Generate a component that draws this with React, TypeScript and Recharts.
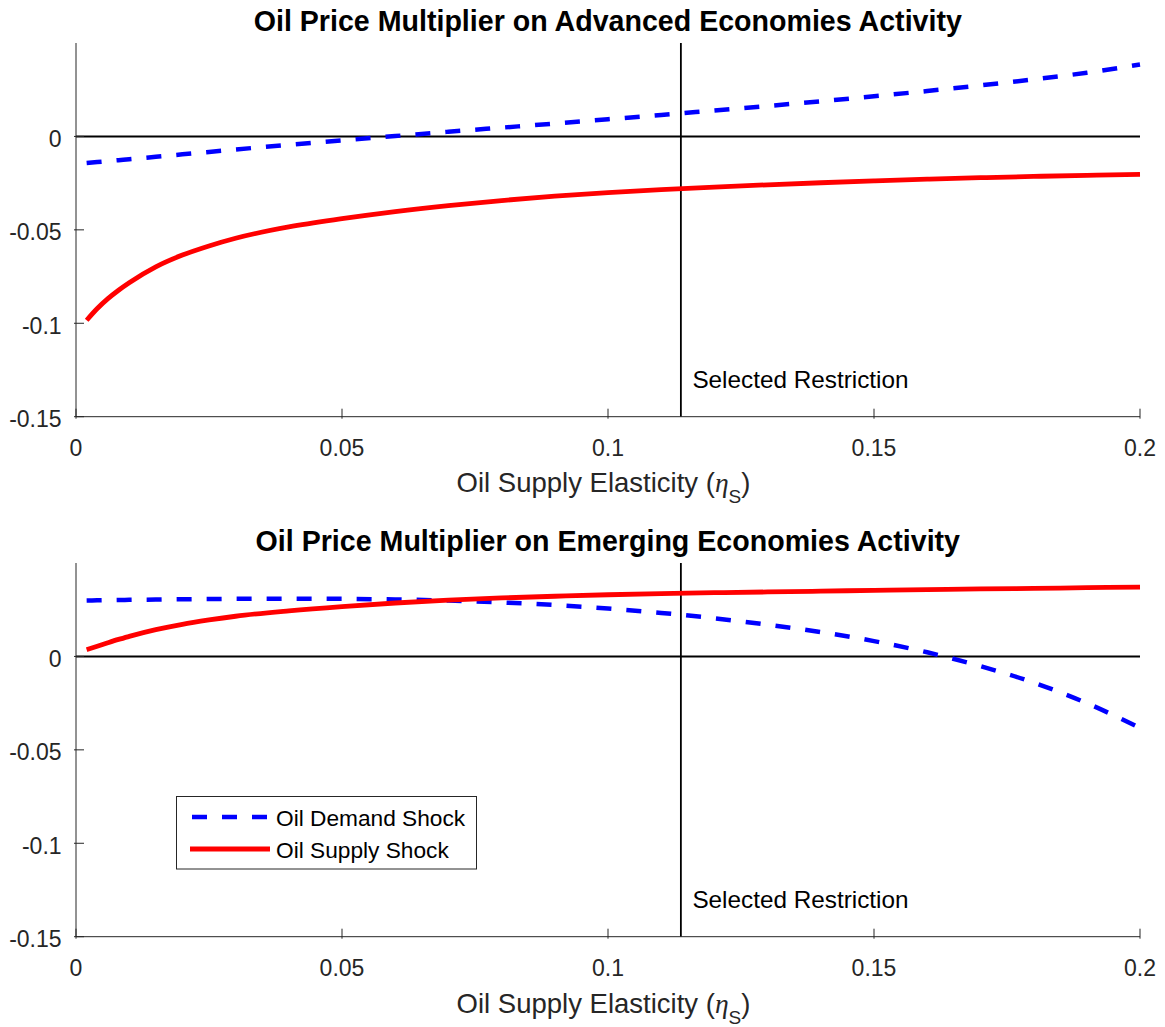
import React from 'react';
import { LineChart, Line, XAxis, YAxis, ReferenceLine } from 'recharts';

const FONT = '"Liberation Sans", Arial, Helvetica, sans-serif';
const AX = '#262626';

// oil supply elasticity grid (x)
const elasticity = [
  0.002, 0.004, 0.006, 0.008, 0.01, 0.015, 0.02, 0.025, 0.03, 0.04, 0.05, 0.06, 0.07,
  0.08, 0.09, 0.1, 0.11, 0.12, 0.13, 0.14, 0.15, 0.16, 0.17, 0.18, 0.19, 0.2,
];

// advanced economies
const advDemand = [
  -0.0142, -0.0137, -0.0132, -0.0127, -0.0122, -0.0109, -0.0096, -0.0083, -0.007, -0.0045,
  -0.0021, 0.0002, 0.0025, 0.0047, 0.0069, 0.0092, 0.0115, 0.0139, 0.0163, 0.0188, 0.0215,
  0.0243, 0.0273, 0.0305, 0.0341, 0.0385,
];
const advSupply = [
  -0.0984, -0.0921, -0.0868, -0.0823, -0.0783, -0.0698, -0.0635, -0.0586, -0.0545, -0.0484,
  -0.044, -0.0402, -0.037, -0.0343, -0.032, -0.0301, -0.0285, -0.0271, -0.0259, -0.0248,
  -0.0238, -0.0229, -0.0221, -0.0214, -0.0208, -0.0203,
];

// emerging economies
const emgDemand = [
  0.0299, 0.03, 0.0301, 0.0302, 0.0303, 0.0304, 0.0306, 0.0307, 0.0308, 0.0309, 0.0308,
  0.0305, 0.0299, 0.0289, 0.0275, 0.0256, 0.0233, 0.0204, 0.017, 0.013, 0.0082, 0.0022,
  -0.0052, -0.014, -0.025, -0.0383,
];
const emgSupply = [
  0.0036, 0.0054, 0.0073, 0.0091, 0.0107, 0.0143, 0.0172, 0.0195, 0.0215, 0.0244, 0.0267,
  0.0286, 0.0301, 0.0313, 0.0322, 0.033, 0.0336, 0.0341, 0.0345, 0.0349, 0.0354, 0.0358,
  0.0361, 0.0364, 0.0368, 0.0371,
];

const xTicks = [0, 0.05, 0.1, 0.15, 0.2];
const yTicks = [-0.15, -0.1, -0.05, 0];
const selectedRestriction = 0.1137;

const W = 1165;
const H = 470;
const PANEL_SHIFT = 520.3;

const BottomTick = ({ x, y, payload }: any) => (
  <g>
    <line x1={x} y1={y} x2={x} y2={y - 10} stroke={AX} />
    <text x={x} y={y + 37.3} textAnchor="middle" fontSize={23} fill={AX} fontFamily={FONT}>
      {String(payload.value)}
    </text>
  </g>
);
const TopTick = ({ x, y }: any) => <line x1={x} y1={y} x2={x} y2={y + 10} stroke={AX} />;
const LeftTick = ({ x, y, payload }: any) => (
  <g>
    <line x1={x} y1={y} x2={x + 10} y2={y} stroke={AX} />
    <text x={x - 12.4} y={y + 10.5} textAnchor="end" fontSize={23} fill={AX} fontFamily={FONT}>
      {String(payload.value)}
    </text>
  </g>
);
const RightTick = ({ x, y }: any) => <line x1={x} y1={y} x2={x - 10} y2={y} stroke={AX} />;

function Panel({ demand, supply, top }: { demand: number[]; supply: number[]; top: number }) {
  const data = elasticity.map((x, i) => ({ x, demand: demand[i], supply: supply[i] }));
  return (
    <div style={{ position: 'absolute', left: 0, top }}>
      <LineChart width={W} height={H} data={data} margin={{ top: 43, right: 25, bottom: 9.3, left: 0 }}>
        <XAxis xAxisId="b" dataKey="x" type="number" domain={[0, 0.2]} ticks={xTicks} interval={0}
          height={44} tickSize={0} tickLine={false} axisLine={{ stroke: AX }} tick={<BottomTick />} />
        <XAxis xAxisId="t" orientation="top" dataKey="x" type="number" domain={[0, 0.2]} ticks={xTicks}
          interval={0} height={0} tickSize={0} tickLine={false} axisLine={{ stroke: AX }} tick={<TopTick />} />
        <YAxis yAxisId="l" type="number" domain={[-0.15, 0.05]} ticks={yTicks} interval={0} width={76}
          tickSize={0} tickLine={false} axisLine={{ stroke: AX }} tick={<LeftTick />} />
        <YAxis yAxisId="r" orientation="right" type="number" domain={[-0.15, 0.05]} ticks={yTicks}
          interval={0} width={0} tickSize={0} tickLine={false} axisLine={{ stroke: AX }} tick={<RightTick />} />
        <ReferenceLine xAxisId="b" yAxisId="l" y={0} stroke="#000" strokeWidth={2} />
        <ReferenceLine xAxisId="b" yAxisId="l" x={selectedRestriction} stroke="#000" strokeWidth={1.8}
          label={(p: any) => (
            <text x={p.viewBox.x + 11.5} y={p.viewBox.y + p.viewBox.height - 28.5} fontSize={24.3}
              fill="#000" fontFamily={FONT}>
              Selected Restriction
            </text>
          )} />
        <Line xAxisId="b" yAxisId="l" dataKey="demand" type="monotone" stroke="#0000ff" strokeWidth={4.5}
          strokeDasharray="15 15" dot={false} activeDot={false} isAnimationActive={false} />
        <Line xAxisId="b" yAxisId="l" dataKey="supply" type="monotone" stroke="#ff0000" strokeWidth={4.8}
          dot={false} activeDot={false} isAnimationActive={false} />
      </LineChart>
    </div>
  );
}

function AxisLabel({ y }: { y: number }) {
  return (
    <text x={603.5} y={y} textAnchor="middle" fontSize={27.5} fill={AX} fontFamily={FONT}>
      Oil Supply Elasticity (
      <tspan fontFamily='"Liberation Serif", serif' fontStyle="italic">η</tspan>
      <tspan dy={11} fontSize={19}>S</tspan>
      <tspan dy={-11}>)</tspan>
    </text>
  );
}

export default function App() {
  return (
    <div style={{ position: 'absolute', left: 0, top: 0, width: W, height: 1027, background: '#fff' }}>
      <Panel demand={advDemand} supply={advSupply} top={0} />
      <Panel demand={emgDemand} supply={emgSupply} top={PANEL_SHIFT} />
      <svg width={W} height={1027} style={{ position: 'absolute', left: 0, top: 0, pointerEvents: 'none' }}>
        <text x={607.8} y={31} textAnchor="middle" fontSize={28.6} fontWeight="bold" fill="#000" fontFamily={FONT}>
          Oil Price Multiplier on Advanced Economies Activity
        </text>
        <text x={607.8} y={31 + PANEL_SHIFT} textAnchor="middle" fontSize={28.6} fontWeight="bold" fill="#000"
          fontFamily={FONT}>
          Oil Price Multiplier on Emerging Economies Activity
        </text>
        <AxisLabel y={492.3} />
        <AxisLabel y={492.3 + PANEL_SHIFT} />
        {/* legend */}
        <rect x={176.5} y={796.5} width={300} height={72.5} fill="#fff" stroke={AX} strokeWidth={1} />
        <line x1={192} y1={817} x2={268} y2={817} stroke="#0000ff" strokeWidth={4.5} strokeDasharray="15 15" />
        <line x1={190} y1={849} x2={270} y2={849} stroke="#ff0000" strokeWidth={4.8} />
        <text x={276} y={826} fontSize={22.7} fill="#000" fontFamily={FONT}>Oil Demand Shock</text>
        <text x={276} y={857.7} fontSize={22.7} fill="#000" fontFamily={FONT}>Oil Supply Shock</text>
      </svg>
    </div>
  );
}
